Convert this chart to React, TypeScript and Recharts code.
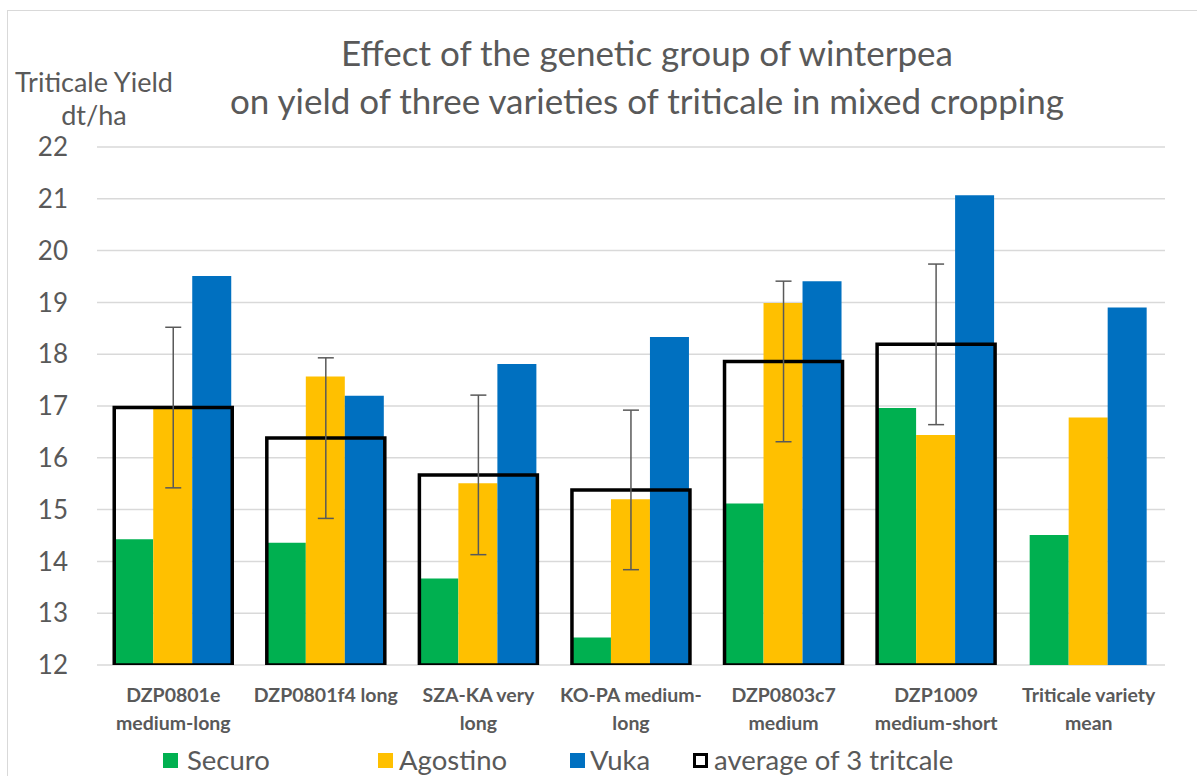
import React from 'react';
import { BarChart, Bar, XAxis, YAxis, CartesianGrid, ErrorBar } from 'recharts';

// category labels, one entry per line of the axis label
const categoryLines = [
  ['DZP0801e', 'medium-long'],
  ['DZP0801f4 long'],
  ['SZA-KA very', 'long'],
  ['KO-PA medium-', 'long'],
  ['DZP0803c7', 'medium'],
  ['DZP1009', 'medium-short'],
  ['Triticale variety', 'mean'],
];

// yield in dt/ha
const securo = [14.43, 14.36, 13.67, 12.53, 15.12, 16.96, 14.51];
const agostino = [16.96, 17.57, 15.51, 15.2, 18.99, 16.44, 16.78];
const vuka = [19.51, 17.2, 17.81, 18.33, 19.41, 21.07, 18.9];
const average = [16.97, 16.38, 15.67, 15.38, 17.86, 18.19, null];
const averageError = [1.55, 1.55, 1.54, 1.54, 1.55, 1.55, null];

const yTicks = [12, 13, 14, 15, 16, 17, 18, 19, 20, 21, 22];

const legendItems = [
  { label: 'Securo', color: '#00B050', box: 163, text: 187 },
  { label: 'Agostino', color: '#FFC000', box: 378, text: 399 },
  { label: 'Vuka', color: '#0070C0', box: 570, text: 590 },
  { label: 'average of 3 tritcale', color: 'none', box: 693, text: 714 },
];

const data = categoryLines.map((lines, i) => ({
  name: lines.join(' '),
  securo: securo[i],
  agostino: agostino[i],
  vuka: vuka[i],
  avg: average[i],
  err: averageError[i],
}));

const FONT = 'Lato, "Open Sans", sans-serif';
const TEXT = '#595959';

function CategoryTick(props: any) {
  const { x, y, index } = props;
  const lines = categoryLines[index] || [];
  return (
    <text x={x} y={y} textAnchor="middle" fill={TEXT} fontFamily={FONT} fontWeight={700} fontSize={19.5}>
      {lines.map((l, i) => (
        <tspan key={i} x={x} y={y + 29 + i * 28}>{l}</tspan>
      ))}
    </text>
  );
}

export default function App() {
  return (
    <div style={{ position: 'fixed', left: 0, top: 0, width: 1197, height: 776, overflow: 'hidden', background: '#fff', fontFamily: FONT }}>
      {/* outer frame, cut at the right and bottom like the source */}
      <div style={{ position: 'absolute', left: 7, top: 10, width: 1300, height: 900, border: '1.5px solid #d9d9d9' }} />

      <div style={{ position: 'absolute', left: 147, top: 28, width: 1000, textAlign: 'center', color: TEXT, fontSize: 35, lineHeight: '48px' }}>
        <div>Effect of the genetic group of winterpea</div>
        <div>on yield of three varieties of triticale in mixed cropping</div>
      </div>

      <div style={{ position: 'absolute', left: 0, top: 65, width: 188, textAlign: 'center', color: TEXT, fontSize: 27, lineHeight: '33px' }}>
        <div>Triticale Yield</div>
        <div>dt/ha</div>
      </div>

      <BarChart
        width={1197}
        height={776}
        data={data}
        margin={{ top: 147, right: 32, bottom: 71, left: 0 }}
        barGap={0}
        barCategoryGap="11.3%"
        style={{ position: 'absolute', left: 0, top: 0 }}
      >
        <CartesianGrid vertical={false} stroke="#d9d9d9" strokeWidth={1.5} />
        <XAxis dataKey="name" axisLine={false} tickLine={false} height={40} interval={0} tick={<CategoryTick />} />
        <XAxis xAxisId="avg" dataKey="name" hide />
        <YAxis
          domain={[12, 22]}
          ticks={yTicks}
          allowDataOverflow
          width={97}
          axisLine={false}
          tickLine={false}
          tickMargin={23}
          tick={{ fill: TEXT, fontSize: 26, fontFamily: FONT }}
        />
        <Bar dataKey="securo" name="Securo" fill="#00B050" isAnimationActive={false} />
        <Bar dataKey="agostino" name="Agostino" fill="#FFC000" isAnimationActive={false} />
        <Bar dataKey="vuka" name="Vuka" fill="#0070C0" isAnimationActive={false} />
        <Bar xAxisId="avg" dataKey="avg" name="average of 3 tritcale" fill="none" stroke="#000" strokeWidth={3.5} isAnimationActive={false}>
          <ErrorBar dataKey="err" width={8} stroke="#595959" strokeWidth={1.5} direction="y" />
        </Bar>
      </BarChart>

      {legendItems.map((it) => (
        <React.Fragment key={it.label}>
          <div
            style={{
              position: 'absolute',
              left: it.box,
              top: 753,
              width: 15,
              height: 15,
              boxSizing: 'border-box',
              background: it.color === 'none' ? '#fff' : it.color,
              border: it.color === 'none' ? '3px solid #000' : 'none',
            }}
          />
          <div style={{ position: 'absolute', left: it.text, top: 744, color: TEXT, fontSize: 27.5, lineHeight: '32px', whiteSpace: 'nowrap' }}>
            {it.label}
          </div>
        </React.Fragment>
      ))}
    </div>
  );
}
